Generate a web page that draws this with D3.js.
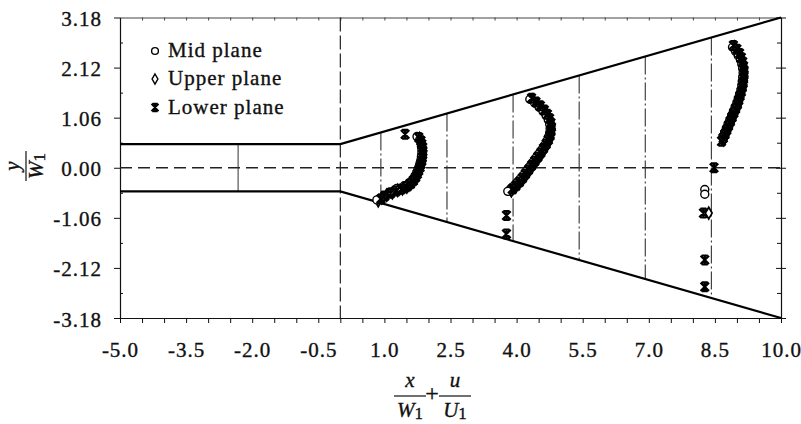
<!DOCTYPE html>
<html>
<head>
<meta charset="utf-8">
<script src="https://cdn.jsdelivr.net/npm/d3@7"></script>
<style>
  body { margin: 0; background: #fff; }
  svg text { font-family: "Liberation Serif", "Times New Roman", serif; fill: #111; }
</style>
</head>
<body>
<svg id="chart" width="801" height="424"></svg>
<script>
// channel: straight inlet, then a diverging section; velocity profiles drawn as x/W1 + u/U1

const xTicks = [-5.0, -3.5, -2.0, -0.5, 1.0, 2.5, 4.0, 5.5, 7.0, 8.5, 10.0];
const yTicks = [-3.18, -2.12, -1.06, 0.00, 1.06, 2.12, 3.18];

// wall half width y/W1 along x/W1
const wallX = [-5, 0, 10];
const wallHalf = [0.5, 0.5, 3.18];

const throatX = 0;
const inletStation = -2.32;
const stations = [0.92, 2.42, 3.92, 5.42, 6.92, 8.42];

// [x/W1 + u/U1, y/W1]
const midPlane = [
  [1.74,0.66],[1.80,0.59],[1.83,0.52],[1.84,0.45],[1.85,0.38],[1.85,0.31],[1.84,0.24],[1.83,0.17],
  [1.81,0.10],[1.79,0.03],[1.76,-0.04],[1.73,-0.11],[1.69,-0.18],[1.64,-0.25],[1.56,-0.32],[1.45,-0.38],
  [1.28,-0.44],[1.13,-0.51],[0.98,-0.60],[0.83,-0.68],
  [4.30,1.45],[4.41,1.37],[4.51,1.28],[4.60,1.19],[4.67,1.10],[4.72,1.01],[4.75,0.92],[4.76,0.83],
  [4.75,0.74],[4.72,0.65],[4.68,0.56],[4.63,0.47],[4.57,0.38],[4.50,0.29],[4.43,0.20],[4.36,0.11],
  [4.29,0.02],[4.22,-0.07],[4.15,-0.16],[4.08,-0.24],[4.00,-0.32],[3.92,-0.40],[3.84,-0.47],[3.80,-0.50],
  [8.90,2.55],[8.97,2.46],[9.03,2.37],[9.08,2.28],[9.11,2.19],[9.13,2.10],[9.14,2.01],[9.13,1.92],
  [9.12,1.83],[9.11,1.74],[9.09,1.65],[9.06,1.56],[9.03,1.47],[9.00,1.38],[8.96,1.29],[8.92,1.20],
  [8.88,1.11],[8.84,1.02],[8.80,0.93],[8.76,0.84],[8.72,0.75],[8.68,0.66],[8.27,-0.46],[8.27,-0.56]
];

const upperPlane = [
  [1.80,0.62],[1.84,0.55],[1.86,0.48],[1.88,0.41],[1.88,0.34],[1.88,0.27],[1.87,0.20],[1.86,0.13],
  [1.84,0.06],[1.82,-0.01],[1.79,-0.08],[1.76,-0.15],[1.72,-0.22],[1.67,-0.29],[1.60,-0.35],[1.51,-0.41],
  [1.41,-0.45],[1.30,-0.48],[1.18,-0.53],[1.05,-0.58],[0.94,-0.64],[0.86,-0.70],
  [4.37,1.44],[4.47,1.35],[4.57,1.27],[4.66,1.18],[4.72,1.09],[4.77,1.00],[4.80,0.91],[4.80,0.82],
  [4.79,0.73],[4.77,0.64],[4.73,0.55],[4.68,0.46],[4.62,0.37],[4.56,0.28],[4.49,0.19],[4.42,0.10],
  [4.35,0.01],[4.28,-0.08],[4.21,-0.17],[4.14,-0.25],[4.06,-0.33],[3.98,-0.41],[3.88,-0.49],
  [8.95,2.56],[9.02,2.47],[9.08,2.38],[9.12,2.29],[9.15,2.20],[9.17,2.11],[9.17,2.02],[9.17,1.93],
  [9.16,1.84],[9.15,1.75],[9.13,1.66],[9.10,1.57],[9.08,1.48],[9.05,1.39],[9.02,1.30],[8.98,1.21],
  [8.94,1.12],[8.90,1.03],[8.86,0.94],[8.82,0.85],[8.78,0.76],[8.74,0.67],[8.70,0.59],[8.36,-0.96]
];

const lowerPlane = [
  [1.47,0.71],[1.78,0.64],[1.83,0.57],[1.85,0.50],[1.87,0.43],[1.87,0.36],[1.87,0.29],[1.86,0.22],
  [1.85,0.15],[1.83,0.08],[1.81,0.01],[1.78,-0.06],[1.75,-0.13],[1.71,-0.20],[1.66,-0.27],[1.59,-0.34],
  [1.50,-0.40],[1.39,-0.45],[1.27,-0.49],[1.14,-0.54],[1.01,-0.60],[0.92,-0.66],
  [4.34,1.47],[4.44,1.39],[4.54,1.31],[4.63,1.22],[4.70,1.13],[4.75,1.04],[4.78,0.95],[4.79,0.86],
  [4.78,0.77],[4.76,0.68],[4.72,0.59],[4.67,0.50],[4.61,0.41],[4.55,0.32],[4.48,0.23],[4.41,0.14],
  [4.34,0.05],[4.27,-0.04],[4.20,-0.13],[4.13,-0.22],[4.06,-0.30],[3.98,-0.38],[3.90,-0.45],
  [3.77,-1.01],[3.77,-1.40],
  [8.92,2.59],[9.00,2.51],[9.06,2.42],[9.10,2.33],[9.13,2.24],[9.15,2.15],[9.16,2.06],[9.16,1.97],
  [9.15,1.88],[9.14,1.79],[9.12,1.70],[9.10,1.61],[9.07,1.52],[9.04,1.43],[9.01,1.34],[8.97,1.25],
  [8.93,1.16],[8.89,1.07],[8.85,0.98],[8.81,0.89],[8.77,0.80],[8.73,0.71],[8.69,0.63],[8.65,0.56],
  [8.48,0.00],[8.24,-0.96],[8.27,-1.95],[8.27,-2.52]
];

const legendItems = ['Mid plane', 'Upper plane', 'Lower plane'];

const svg = d3.select('#chart');
const x = d3.scaleLinear().domain([-5, 10]).range([120, 781]);
const y = d3.scaleLinear().domain([-3.18, 3.18]).range([318, 17.5]);
const half = d3.scaleLinear().domain(wallX).range(wallHalf);

const minorX = d3.range(0, 31).map(i => -5 + i * 0.5);
const minorY = d3.range(-6, 7).map(i => +(i * 0.53).toFixed(2));
const isMajorX = d => xTicks.some(t => Math.abs(t - d) < 1e-6);
const isMajorY = d => yTicks.some(t => Math.abs(t - d) < 1e-6);

const inkText = sel => sel.attr('stroke', '#111').attr('stroke-width', 0.35);

const styleAxis = function(g, col){
  g.select('.domain').attr('stroke', col || '#111').attr('stroke-width', 1.2);
  g.selectAll('.tick line').attr('stroke', col || '#111');
  g.selectAll('text').attr('font-size', 21).attr('letter-spacing', 1).attr('fill', '#111')
   .attr('font-family', '"Liberation Serif", serif').call(inkText);
}

// bottom
svg.append('g').attr('transform', `translate(0, ${y(-3.18)})`)
  .call(d3.axisBottom(x).tickValues(minorX).tickSize(5).tickSizeOuter(0)
    .tickFormat(d => isMajorX(d) ? d.toFixed(1) : ''))
  .call(g => {
    styleAxis(g);
    g.selectAll('text').attr('y', 39).attr('dy', null);
  });

// top
svg.append('g').attr('transform', `translate(0, ${y(3.18)})`)
  .call(d3.axisTop(x).tickValues(minorX).tickSize(-3).tickSizeOuter(0).tickFormat(''))
  .call(g => styleAxis(g, '#444'));

// left
svg.append('g').attr('transform', `translate(${x(-5)}, 0)`)
  .call(d3.axisLeft(y).tickValues(minorY).tickSize(6).tickSizeOuter(0)
    .tickFormat(d => isMajorY(d) ? d.toFixed(2) : ''))
  .call(g => {
    styleAxis(g);
    g.selectAll('.tick line').attr('x1', d => isMajorY(d) ? 0 : 3).attr('x2', d => isMajorY(d) ? -6 : 0);
    g.selectAll('text').attr('x', -18).attr('dy', null).attr('y', 8);
  });

// right
svg.append('g').attr('transform', `translate(${x(10)}, 0)`)
  .call(d3.axisRight(y).tickValues(minorY).tickSize(5).tickSizeOuter(0).tickFormat(''))
  .call(g => {
    styleAxis(g);
    g.selectAll('.tick line').attr('x1', d => isMajorY(d) ? -5 : -4).attr('x2', d => isMajorY(d) ? 5 : 0);
  });

// reference lines
svg.append('line')
  .attr('x1', x(-5)).attr('x2', x(10)).attr('y1', y(0)).attr('y2', y(0))
  .attr('stroke', '#222').attr('stroke-width', 1.3).attr('stroke-dasharray', '12,6');

svg.append('line')
  .attr('x1', x(throatX)).attr('x2', x(throatX)).attr('y1', y(3.18)).attr('y2', y(-3.18))
  .attr('stroke', '#222').attr('stroke-width', 1.2).attr('stroke-dasharray', '14,4');

svg.append('line')
  .attr('x1', x(inletStation)).attr('x2', x(inletStation))
  .attr('y1', y(half(inletStation))).attr('y2', y(-half(inletStation)))
  .attr('stroke', '#333').attr('stroke-width', 1);

svg.append('g').selectAll('line').data(stations).join('line')
  .attr('x1', d => x(d)).attr('x2', d => x(d))
  .attr('y1', d => y(half(d))).attr('y2', d => y(-half(d)))
  .attr('stroke', '#333').attr('stroke-width', 1.1).attr('stroke-dasharray', '18,3,2,3');

// walls
const wall = d3.line().x(d => x(d[0])).y(d => y(d[1]));
[1, -1].forEach(s => {
  svg.append('path')
    .attr('d', wall(wallX.map((v, i) => [v, s * wallHalf[i]])))
    .attr('fill', 'none').attr('stroke', '#000').attr('stroke-width', 2.2);
});

// markers
const starPath = 'M-4.2,-4.2L4.2,4.2M-4.2,4.2L4.2,-4.2M0,-4.8L0,4.8M-3,-4.4L3,-4.4M-3,4.4L3,4.4';
const diamond = d3.symbol(d3.symbolDiamond, 40);

const drawCircles = (sel, data) => sel.selectAll('circle').data(data).join('circle')
  .attr('cx', d => x(d[0])).attr('cy', d => y(d[1])).attr('r', 4)
  .attr('fill', '#fff').attr('stroke', '#000').attr('stroke-width', 1.4);
const drawDiamonds = (sel, data) => sel.selectAll('path').data(data).join('path')
  .attr('d', diamond).attr('transform', d => `translate(${x(d[0])}, ${y(d[1])})`)
  .attr('fill', '#fff').attr('stroke', '#000').attr('stroke-width', 1.7);
const drawStars = (sel, data) => sel.selectAll('path').data(data).join('path')
  .attr('d', starPath).attr('transform', d => `translate(${x(d[0])}, ${y(d[1])})`)
  .attr('fill', 'none').attr('stroke', '#000').attr('stroke-width', 2.2);

svg.append('g').call(drawDiamonds, upperPlane);
svg.append('g').call(drawCircles, midPlane);
svg.append('g').call(drawStars, lowerPlane);

// legend
const lg = svg.append('g').attr('transform', 'translate(155, 51)');
lg.append('g').call(drawCircles, [[0, 0]]).selectAll('circle').attr('cx', 0).attr('cy', 0).attr('r', 3.4);
lg.append('g').call(drawDiamonds, [[0, 0]]).selectAll('path').attr('transform', 'translate(0, 28) scale(0.85)');
lg.append('g').call(drawStars, [[0, 0]]).selectAll('path').attr('transform', 'translate(0, 56.5) scale(0.85)');
lg.selectAll('text').data(legendItems).join('text')
  .attr('x', 13).attr('y', (d, i) => 6 + i * 28.3)
  .attr('font-size', 21).attr('letter-spacing', 1)
  .call(inkText)
  .text(d => d);

// x title: x/W1 + u/U1
const xt = svg.append('g').attr('font-size', 21);
const frac = function(sel, cx, num, den){
  sel.append('text').attr('x', cx).attr('y', 387).attr('text-anchor', 'middle')
    .attr('font-style', 'italic').call(inkText).text(num);
  sel.append('line').attr('x1', cx - 16).attr('x2', cx + 16).attr('y1', 396).attr('y2', 396)
    .attr('stroke', '#111').attr('stroke-width', 1.2);
  const t = sel.append('text').attr('x', cx).attr('y', 417).attr('text-anchor', 'middle').call(inkText);
  t.append('tspan').attr('font-style', 'italic').text(den);
  t.append('tspan').attr('font-size', 17).attr('dy', 2).text('1');
}
xt.call(frac, 410, 'x', 'W');
xt.append('text').attr('x', 432).attr('y', 401).attr('text-anchor', 'middle')
  .style('font-size', '24px').call(inkText).text('+');
xt.call(frac, 455, 'u', 'U');

// y title: y/W1 rotated
const yt = svg.append('g').attr('font-size', 21).attr('transform', 'translate(26, 166) rotate(-90)');
yt.append('text').attr('x', 0).attr('y', -7).attr('text-anchor', 'middle')
  .attr('font-style', 'italic').call(inkText).text('y');
yt.append('line').attr('x1', -15).attr('x2', 15).attr('y1', 0).attr('y2', 0)
  .attr('stroke', '#111').attr('stroke-width', 1.2);
const yd = yt.append('text').attr('x', 0).attr('y', 17).attr('text-anchor', 'middle').call(inkText);
yd.append('tspan').attr('font-style', 'italic').text('W');
yd.append('tspan').attr('font-size', 17).attr('dy', 2).text('1');
</script>
</body>
</html>
